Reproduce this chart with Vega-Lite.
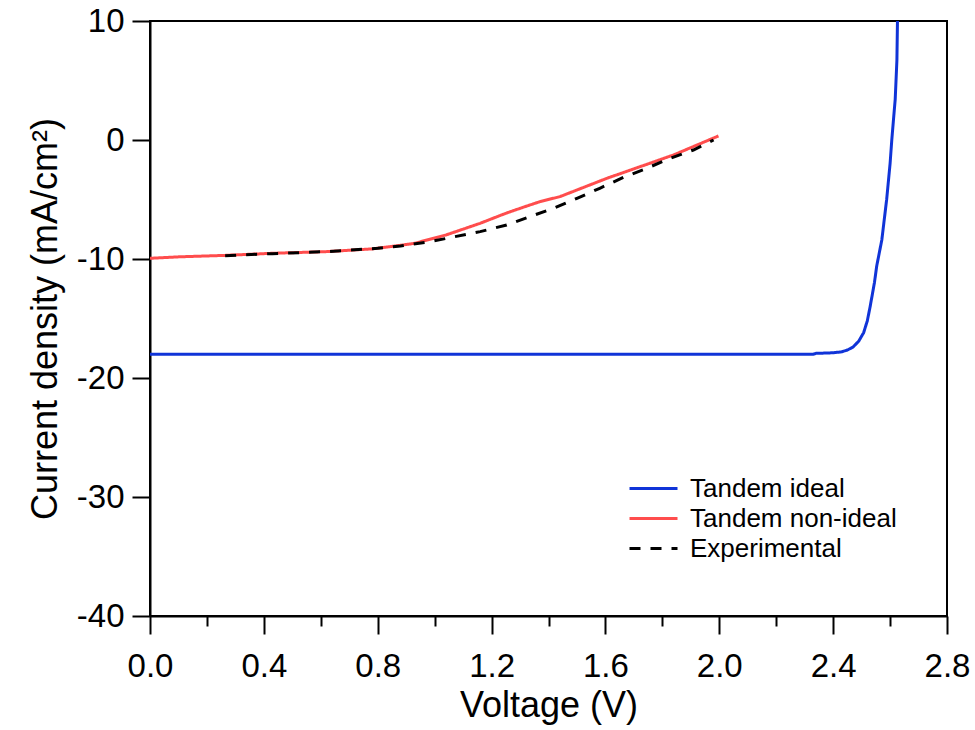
{
  "$schema": "https://vega.github.io/schema/vega-lite/v6.json",
  "width": 797,
  "height": 595,
  "autosize": {"type": "none"},
  "padding": {"left": 150, "top": 21, "right": 28, "bottom": 114},
  "background": "white",
  "config": {
    "view": {"stroke": "black", "strokeWidth": 2},
    "font": "Liberation Sans",
    "axis": {
      "grid": false,
      "domainColor": "black",
      "domainWidth": 2,
      "tickColor": "black",
      "tickWidth": 2,
      "labelColor": "black",
      "titleColor": "black",
      "labelFont": "Liberation Sans",
      "titleFont": "Liberation Sans",
      "labelFontSize": 33,
      "titleFontSize": 36,
      "titleFontWeight": "normal"
    },
    "legend": {
      "title": null,
      "orient": "none",
      "legendX": 487,
      "legendY": 451,
      "padding": 0,
      "symbolType": "M-1.6,0H1.6",
      "symbolSize": 900,
      "symbolStrokeWidth": 3,
      "labelFontSize": 26,
      "labelFont": "Liberation Sans",
      "labelColor": "black",
      "labelOffset": 20,
      "labelLimit": 500,
      "rowPadding": 0
    }
  },
  "datasets": {
    "curves": [
      {"series": "Tandem ideal", "v": 0.0, "j": -18.0},
      {"series": "Tandem ideal", "v": 0.5, "j": -18.0},
      {"series": "Tandem ideal", "v": 1.0, "j": -18.0},
      {"series": "Tandem ideal", "v": 1.5, "j": -18.0},
      {"series": "Tandem ideal", "v": 2.0, "j": -18.0},
      {"series": "Tandem ideal", "v": 2.33, "j": -18.0},
      {"series": "Tandem ideal", "v": 2.34, "j": -17.93},
      {"series": "Tandem ideal", "v": 2.40, "j": -17.88},
      {"series": "Tandem ideal", "v": 2.43, "j": -17.8},
      {"series": "Tandem ideal", "v": 2.45, "j": -17.65},
      {"series": "Tandem ideal", "v": 2.47, "j": -17.4},
      {"series": "Tandem ideal", "v": 2.49, "j": -16.9},
      {"series": "Tandem ideal", "v": 2.507, "j": -16.2},
      {"series": "Tandem ideal", "v": 2.52, "j": -15.2},
      {"series": "Tandem ideal", "v": 2.53, "j": -14.0},
      {"series": "Tandem ideal", "v": 2.545, "j": -12.0},
      {"series": "Tandem ideal", "v": 2.553, "j": -10.6},
      {"series": "Tandem ideal", "v": 2.571, "j": -8.4},
      {"series": "Tandem ideal", "v": 2.588, "j": -5.0},
      {"series": "Tandem ideal", "v": 2.6, "j": -2.0},
      {"series": "Tandem ideal", "v": 2.606, "j": 0.0},
      {"series": "Tandem ideal", "v": 2.613, "j": 2.0},
      {"series": "Tandem ideal", "v": 2.618, "j": 3.4},
      {"series": "Tandem ideal", "v": 2.624, "j": 6.7},
      {"series": "Tandem ideal", "v": 2.626, "j": 10.0},
      {"series": "Tandem non-ideal", "v": 0.0, "j": -9.94},
      {"series": "Tandem non-ideal", "v": 0.1, "j": -9.82},
      {"series": "Tandem non-ideal", "v": 0.26, "j": -9.7},
      {"series": "Tandem non-ideal", "v": 0.43, "j": -9.52},
      {"series": "Tandem non-ideal", "v": 0.62, "j": -9.38},
      {"series": "Tandem non-ideal", "v": 0.78, "j": -9.15},
      {"series": "Tandem non-ideal", "v": 0.88, "j": -8.85},
      {"series": "Tandem non-ideal", "v": 0.93, "j": -8.68},
      {"series": "Tandem non-ideal", "v": 1.04, "j": -7.98},
      {"series": "Tandem non-ideal", "v": 1.16, "j": -7.0},
      {"series": "Tandem non-ideal", "v": 1.25, "j": -6.16},
      {"series": "Tandem non-ideal", "v": 1.31, "j": -5.66},
      {"series": "Tandem non-ideal", "v": 1.37, "j": -5.18},
      {"series": "Tandem non-ideal", "v": 1.44, "j": -4.76},
      {"series": "Tandem non-ideal", "v": 1.605, "j": -3.22},
      {"series": "Tandem non-ideal", "v": 1.839, "j": -1.26},
      {"series": "Tandem non-ideal", "v": 1.997, "j": 0.34},
      {"series": "Experimental", "v": 0.264, "j": -9.72},
      {"series": "Experimental", "v": 0.43, "j": -9.55},
      {"series": "Experimental", "v": 0.62, "j": -9.38},
      {"series": "Experimental", "v": 0.8, "j": -9.1},
      {"series": "Experimental", "v": 0.88, "j": -8.9},
      {"series": "Experimental", "v": 0.984, "j": -8.54},
      {"series": "Experimental", "v": 1.16, "j": -7.7},
      {"series": "Experimental", "v": 1.253, "j": -7.14},
      {"series": "Experimental", "v": 1.335, "j": -6.44},
      {"series": "Experimental", "v": 1.417, "j": -5.74},
      {"series": "Experimental", "v": 1.5, "j": -4.9},
      {"series": "Experimental", "v": 1.58, "j": -4.06},
      {"series": "Experimental", "v": 1.663, "j": -3.14},
      {"series": "Experimental", "v": 1.745, "j": -2.38},
      {"series": "Experimental", "v": 1.827, "j": -1.54},
      {"series": "Experimental", "v": 1.909, "j": -0.84},
      {"series": "Experimental", "v": 1.98, "j": 0.0}
    ]
  },
  "layer": [
    {
      "mark": {"type": "rule", "color": "black", "strokeWidth": 2},
      "encoding": {"y": {"datum": 0, "type": "quantitative"}}
    },
    {
      "data": {"name": "curves"},
      "mark": {"type": "line", "strokeWidth": 3, "clip": true},
      "encoding": {
        "x": {
          "field": "v",
          "type": "quantitative",
          "scale": {"domain": [0, 2.8], "nice": false, "zero": false},
          "axis": {
            "title": "Voltage (V)",
            "values": [0, 0.2, 0.4, 0.6, 0.8, 1.0, 1.2, 1.4, 1.6, 1.8, 2.0, 2.2, 2.4, 2.6, 2.8],
            "labelExpr": "round(datum.value*10) % 4 == 0 ? format(datum.value, '.1f') : ''",
            "tickSize": {"condition": {"test": "round(datum.value*10) % 4 == 0", "value": 18}, "value": 10},
            "labelPadding": 16,
            "labelFlush": false,
            "labelOverlap": false,
            "titleY": 89,
            "titleBaseline": "middle"
          }
        },
        "y": {
          "field": "j",
          "type": "quantitative",
          "scale": {"domain": [-40, 10], "nice": false, "zero": false},
          "axis": {
            "title": "Current density (mA/cm²)",
            "values": [-40, -30, -20, -10, 0, 10],
            "labelExpr": "'' + datum.value",
            "tickSize": 18,
            "labelPadding": 8,
            "labelFlush": false,
            "labelOverlap": false,
            "titleX": -105,
            "titleBaseline": "middle"
          }
        },
        "color": {
          "field": "series",
          "type": "nominal",
          "scale": {
            "domain": ["Tandem ideal", "Tandem non-ideal", "Experimental"],
            "range": ["#1034d8", "#ff4d4d", "black"]
          },
          "legend": {}
        },
        "strokeDash": {
          "field": "series",
          "type": "nominal",
          "scale": {
            "domain": ["Tandem ideal", "Tandem non-ideal", "Experimental"],
            "range": [[1, 0], [1, 0], [11, 10]]
          },
          "legend": {}
        }
      }
    }
  ]
}
